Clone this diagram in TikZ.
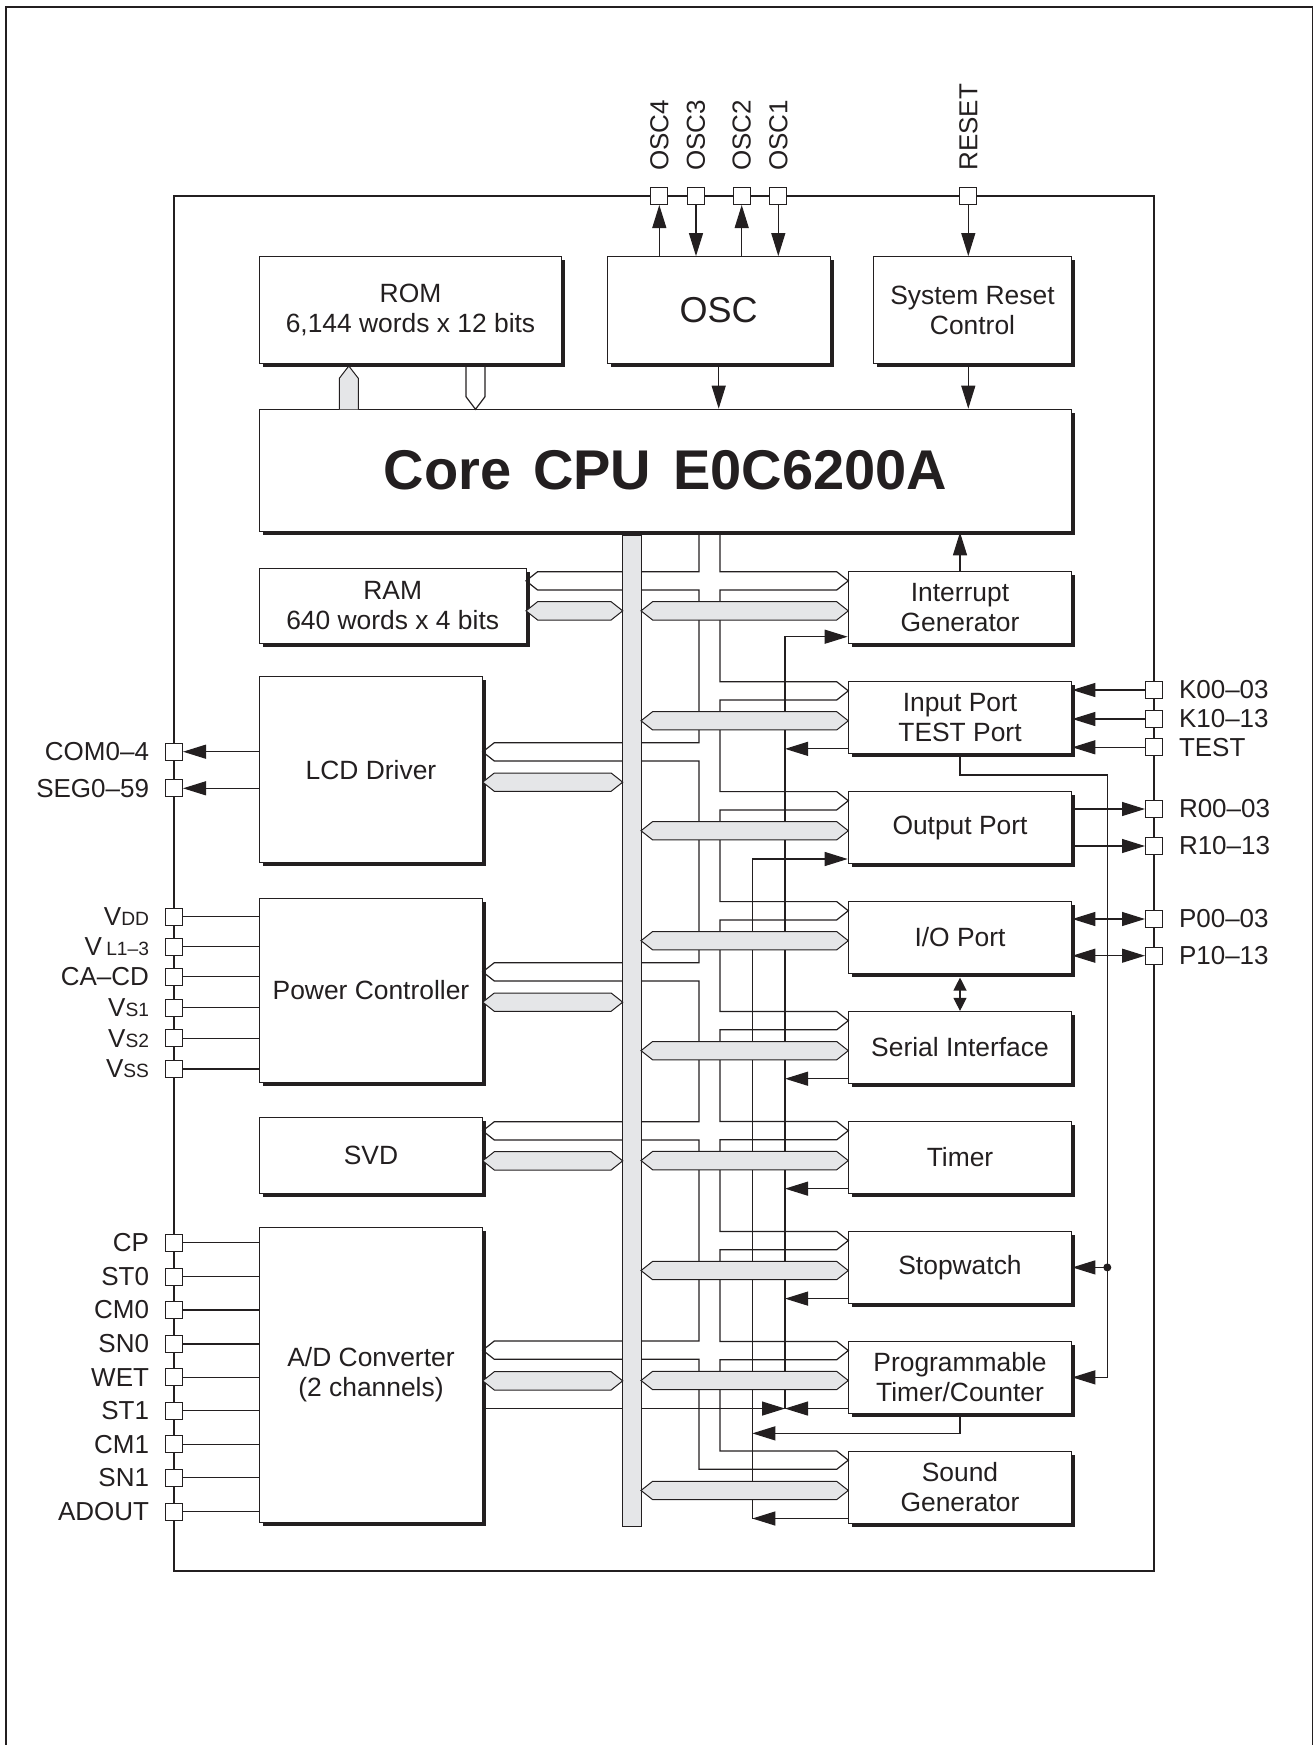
\documentclass[tikz,border=0pt]{standalone}
\usepackage{fontspec}
\setmainfont{Liberation Sans}
\usetikzlibrary{arrows.meta, positioning, calc, shadows}

\definecolor{ink}{RGB}{35,31,32}
\definecolor{busgray}{RGB}{229,230,232}

% gray data bus arrow: left tip x, right tip x, centre y
\newcommand{\dbus}[3]{%
  \filldraw[busline] (#1,#3) -- (#1+11.6,#3-9.15) -- (#2-11.6,#3-9.15)
    -- (#2,#3) -- (#2-11.6,#3+9.15) -- (#1+11.6,#3+9.15) -- cycle;}
\newcommand{\vsub}[1]{{\fontsize{9.6}{10}\selectfont #1}}

\begin{document}
\begin{tikzpicture}[x=0.5pt, y=-0.5pt,
  every node/.style={text=ink},
  blk/.style={draw=ink, fill=white, line width=0.6pt, inner sep=0pt, align=center,
    font=\fontsize{13.2}{15}\selectfont,
    drop shadow={shadow xshift=1.7pt, shadow yshift=-1.7pt, fill=ink, opacity=1}},
  rblk/.style={blk, minimum width=111.7pt, minimum height=36pt},
  lblk/.style={blk, minimum width=111.7pt},
  pad/.style={draw=ink, fill=white, line width=0.5pt, minimum size=8.5pt, inner sep=0pt},
  lbl/.style={inner sep=0pt, font=\fontsize{13}{15}\selectfont},
  wire/.style={draw=ink, line width=0.6pt},
  arr/.style={wire, -{Triangle[length=11.5pt, width=7pt]}},
  darr/.style={wire, {Triangle[length=11.5pt, width=7pt]}-{Triangle[length=11.5pt, width=7pt]}},
  sarr/.style={wire, {Triangle[length=6.5pt, width=6.5pt]}-{Triangle[length=6.5pt, width=6.5pt]}},
  busline/.style={draw=ink, fill=busgray, line width=0.5pt}]

\useasboundingbox (0,0) rectangle (1314,1745);
\draw[wire] (6,1745) -- (6,7) -- (1312.5,7) -- (1312.5,1745);
\draw[wire] (174,196) rectangle (1154,1571);

% blocks
\node[blk, minimum width=151.2pt, minimum height=53.3pt] (rom) at (410.5,310) {ROM\\6,144 words x 12 bits};
\node[blk, minimum width=111.4pt, minimum height=53.3pt, font=\fontsize{18}{20}\selectfont] (osc) at (718.7,310) {OSC};
\node[blk, minimum width=99.2pt, minimum height=53.3pt] (rst) at (972.5,310) {System Reset\\Control};
\node[blk, minimum width=406.2pt, minimum height=61.2pt, font=\bfseries\fontsize{28}{30}\selectfont] (cpu) at (665.5,470.5) {Core\hspace{11pt}CPU\hspace{11pt}E0C6200A};
\node[blk, minimum width=133.4pt, minimum height=37.5pt] (ram) at (392.7,605.8) {RAM\\640 words x 4 bits};
\node[lblk, minimum height=93pt] (lcd) at (371,769.7) {LCD Driver};
\node[lblk, minimum height=92pt] (pwr) at (371,990.3) {Power Controller};
\node[lblk, minimum height=38pt] (svd) at (371,1155.3) {SVD};
\node[lblk, minimum height=147.2pt] (adc) at (371,1374.9) {A/D Converter\\(2 channels)};

\foreach \n/\i/\t in {intr/0/{Interrupt\\Generator}, inp/1/{Input Port\\TEST Port},
    outp/2/{Output Port}, io/3/{I/O Port}, ser/4/{Serial Interface}, tim/5/{Timer},
    stw/6/{Stopwatch}, ptc/7/{Programmable\\Timer/Counter}, snd/8/{Sound\\Generator}}
  \node[rblk] (\n) at (960,607.7+109.95*\i) {\t};

% pins
\foreach \n/\x/\t in {osc4/659.3/OSC4, osc3/696/OSC3, osc2/741.7/OSC2, osc1/778.3/OSC1, reset/968.3/RESET} {
  \node[pad] (p\n) at (\x,196) {};
  \node[lbl, rotate=90, anchor=west] (l\n) at ($(p\n.north)+(0,-16)$) {\t};
}
\foreach \n/\y/\t in {com/751.7/COM0–4, seg/788.3/SEG0–59,
    vdd/916.7/{V\vsub{DD}}, vl/946.7/{V\,\vsub{L1–3}}, cacd/976.7/CA–CD,
    vs1/1007.7/{V\vsub{S1}}, vs2/1038.3/{V\vsub{S2}}, vss/1069/{V\vsub{SS}},
    cp/1242.7/CP, st0/1276.7/ST0, cm0/1310/CM0, sn0/1344/SN0, wet/1377.3/WET,
    st1/1410.7/ST1, cm1/1444.3/CM1, sn1/1477.7/SN1, adout/1511.7/ADOUT} {
  \node[pad] (p\n) at (174,\y) {};
  \node[lbl, left=7.8pt of p\n] (l\n) {\t};
}
\foreach \n/\y/\t in {k00/690/K00–03, k10/719/K10–13, test/747.3/TEST,
    r00/809/R00–03, r10/846/R10–13, p00/919/P00–03, p10/955.7/P10–13} {
  \node[pad] (p\n) at (1154,\y) {};
  \node[lbl, right=7.8pt of p\n] (l\n) {\t};
}

% pin connections
\draw[arr] (posc4 |- osc.north) -- (posc4);
\draw[arr] (posc3) -- (posc3 |- osc.north);
\draw[arr] (posc2 |- osc.north) -- (posc2);
\draw[arr] (posc1) -- (posc1 |- osc.north);
\draw[arr] (preset) -- (preset |- rst.north);
\draw[arr] (pcom -| lcd.west) -- (pcom);
\draw[arr] (pseg -| lcd.west) -- (pseg);
\foreach \n in {vdd,vl,cacd,vs1,vs2,vss}
  \draw[wire] (p\n) -- (p\n -| pwr.west);
\foreach \n in {cp,st0,cm0,sn0,wet,st1,cm1,sn1,adout}
  \draw[wire] (p\n) -- (p\n -| adc.west);
\foreach \n in {k00,k10,test}
  \draw[arr] (p\n) -- (p\n -| inp.east);
\foreach \n in {r00,r10}
  \draw[arr] (p\n -| outp.east) -- (p\n);
\foreach \n in {p00,p10}
  \draw[darr] (p\n -| io.east) -- (p\n);

% control lines
\draw[arr] (osc.south) -- (osc.south |- cpu.north);
\draw[arr] (preset |- rst.south) -- (preset |- cpu.north);
\draw[arr] (intr.north) -- (intr.north |- cpu.south);
\draw[sarr] ([yshift=-1.7pt]io.south) -- (ser.north);

\coordinate (tb) at ($(inp.south)+(0,20.7)$);
\coordinate (rk) at (1107.3,0);
\draw[arr] (inp.south) -- (tb) -| (rk |- ptc.east) -- (ptc.east);
\draw[arr] (rk |- stw.east) -- (stw.east);
\fill[ink] (rk |- stw.east) circle (2pt);

% interrupt and clock request lines
\coordinate (irq) at (785,636.7);
\coordinate (orq) at (752.3,859);
\foreach \b in {inp,ser,tim,stw,ptc,snd}
  \coordinate (\b-q) at ([yshift=2.7pt]\b.south west);
\draw[arr] (irq |- ptc-q) -- (irq) -- (irq -| intr.west);
\draw[arr] (orq |- snd-q) -- (orq) -- (orq -| outp.west);
\foreach \b in {inp,ser,tim,stw,ptc}
  \draw[arr] (\b-q) -- (\b-q -| irq);
\draw[arr] (snd-q) -- (snd-q -| orq);
\draw[arr] (adc.east |- ptc-q) -- (ptc-q -| irq);
\coordinate (ptcd) at ($(ptc.south)+(0,19.4)$);
\draw[arr] (ptc.south) -- (ptcd) -- (ptcd -| orq);

% address bus (hollow)
\draw[wire] (699,531.7)
  foreach \tx/\ty in {526/571.7, 482.7/742.7, 482.7/962.7, 482.7/1121.7, 482.7/1341}
    { -- (699,\ty) -- (\tx+11.6,\ty) -- (\tx,\ty+9.15) -- (\tx+11.6,\ty+18.3) -- (699,\ty+18.3) }
  -- (699,1469.3) -- (836.7,1469.3) -- (848.3,1460.15) -- (836.7,1451) -- (720,1451)
  foreach \ty in {1341.4,1231.4,1121.5,1011.5,901.6,791.6,681.7,571.7}
    { -- (720,\ty+18.3) -- (836.7,\ty+18.3) -- (848.3,\ty+9.15) -- (836.7,\ty) -- (720,\ty) }
  -- (720,531.7);
\draw[wire] (466,366.6) -- (466,396.7) -- (475.5,409.3) -- (485,396.7) -- (485,366.6);

% data bus
\filldraw[busline] (622.7,535) rectangle (641,1526);
\filldraw[busline] (339.3,409.3) -- (339.3,378.3) -- (348.8,366) -- (358.3,378.3) -- (358.3,409.3);
\dbus{526}{622.7}{610.85}
\dbus{482.7}{622.7}{782.15}
\dbus{482.7}{622.7}{1002.15}
\dbus{482.7}{622.7}{1160.85}
\dbus{482.7}{622.7}{1380.85}
\foreach \i in {0,...,8} {
  \dbus{641}{848.3}{610.85+109.95*\i}
}

\end{tikzpicture}
\end{document}
